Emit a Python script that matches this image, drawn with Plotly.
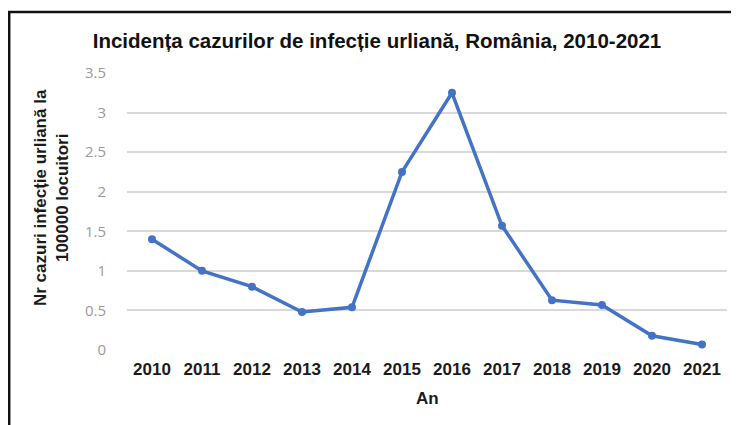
import plotly.graph_objects as go

years = ["2010", "2011", "2012", "2013", "2014", "2015", "2016", "2017", "2018", "2019", "2020", "2021"]
incidence = [1.40, 1.00, 0.80, 0.48, 0.54, 2.25, 3.25, 1.57, 0.63, 0.57, 0.18, 0.07]
y_ticks = [0, 0.5, 1, 1.5, 2, 2.5, 3, 3.5]
y_tick_labels = ["0", "0.5", "1", "1.5", "2", "2.5", "3", "3.5"]

# page offset (browser default body margin)
OFF = 8
W, H = 739, 425
# target plot area in window pixels: x 127..727, y 73..350
L = 127 - OFF
T = 73 - OFF
R = W - (727 - OFF)
B = H - (350 - OFF)
pw, ph = W - L - R, H - T - B

def px_x(x):
    return (x - OFF - L) / pw

def px_y(y):
    return (H - B - (y - OFF)) / ph

fig = go.Figure()
fig.add_trace(go.Scatter(
    x=years, y=incidence, mode="lines+markers",
    line=dict(color="#4472C4", width=3.5),
    marker=dict(color="#4472C4", size=8),
    showlegend=False,
))

fig.update_layout(
    width=W, height=H,
    margin=dict(l=L, r=R, t=T, b=B, autoexpand=False),
    paper_bgcolor="white", plot_bgcolor="white",
    font=dict(family="Liberation Sans, Arial, sans-serif"),
    title=dict(
        text="<b>Incidența cazurilor de infecție urliană, România, 2010-2021</b>",
        x=px_x(377), xref="paper", xanchor="center",
        y=1 - (41 - OFF) / H, yanchor="middle",
        font=dict(size=20.5, color="#111111"),
    ),
    xaxis=dict(
        type="category", showgrid=False, showline=False, zeroline=False,
        automargin=False, range=[-0.5, len(years) - 0.5],
        tickfont=dict(size=17, color="#1a1a1a", family="Liberation Sans, Arial, sans-serif", weight="bold"),
        ticks="", ticklabelstandoff=7,
    ),
    yaxis=dict(
        range=[0, 3.5], tickvals=y_ticks, ticktext=y_tick_labels,
        automargin=False,
        showgrid=True, gridcolor="#d9d9d9", gridwidth=1.5,
        zeroline=False, showline=False, ticks="",
        tickfont=dict(size=15, color="#9a9a9a", family="Open Sans, Liberation Sans, sans-serif"),
        ticklabelstandoff=20,
    ),
    shapes=[
        dict(type="line", xref="paper", yref="paper",
             x0=px_x(9.2), x1=px_x(9.2), y0=px_y(12), y1=px_y(H + 20),
             line=dict(color="#111111", width=2.5)),
        dict(type="line", xref="paper", yref="paper",
             x0=px_x(8), x1=px_x(W + 20), y0=px_y(12), y1=px_y(12),
             line=dict(color="#111111", width=2.5)),
        dict(type="line", xref="paper", yref="paper",
             x0=px_x(737), x1=px_x(737), y0=px_y(12), y1=px_y(H + 20),
             line=dict(color="#e6e6e6", width=1)),
    ],
    annotations=[
        dict(text="<b>Nr cazuri infecție urliană la<br>100000 locuitori</b>",
             xref="paper", yref="paper", x=px_x(51), y=px_y(198),
             xanchor="center", yanchor="middle", textangle=-90, showarrow=False,
             font=dict(size=17, color="#1a1a1a")),
        dict(text="<b>An</b>",
             xref="paper", yref="paper", x=px_x(427), y=px_y(398),
             xanchor="center", yanchor="middle", showarrow=False,
             font=dict(size=17, color="#1a1a1a")),
    ],
)

fig.write_html("out.html")
